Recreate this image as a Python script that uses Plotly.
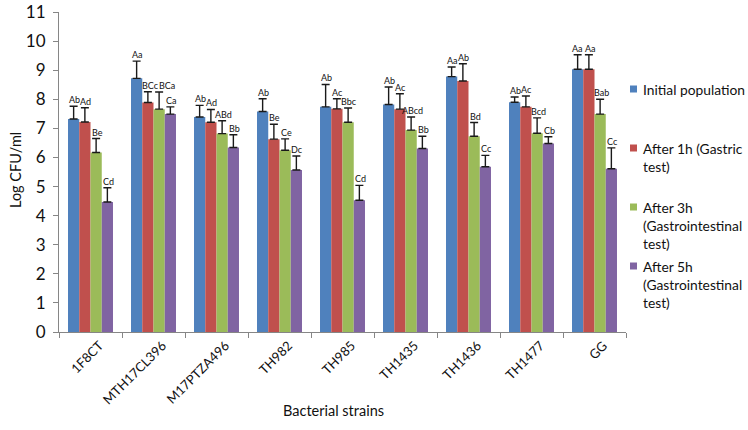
import plotly.graph_objects as go

strains = ["1F8CT", "MTH17CL396", "M17PTZA496", "TH982", "TH985", "TH1435", "TH1436", "TH1477", "GG"]

initial = [7.32, 8.72, 7.39, 7.58, 7.74, 7.82, 8.78, 7.90, 9.03]
after1h = [7.22, 7.89, 7.21, 6.63, 7.67, 7.66, 8.63, 7.74, 9.03]
after3h = [6.17, 7.66, 6.82, 6.25, 7.21, 6.94, 6.73, 6.83, 7.49]
after5h = [4.47, 7.49, 6.34, 5.57, 4.53, 6.31, 5.68, 6.48, 5.61]

err_initial = [0.44, 0.59, 0.40, 0.44, 0.77, 0.60, 0.33, 0.18, 0.50]
err_1h = [0.49, 0.37, 0.44, 0.51, 0.35, 0.53, 0.59, 0.37, 0.50]
err_3h = [0.48, 0.59, 0.44, 0.39, 0.49, 0.45, 0.47, 0.53, 0.51]
err_5h = [0.49, 0.25, 0.44, 0.48, 0.51, 0.42, 0.39, 0.23, 0.72]

lbl_initial = ["Ab", "Aa", "Ab", "Ab", "Ab", "Ab", "Aa", "Ab", "Aa"]
lbl_1h = ["Ad", "BCc", "Ad", "Be", "Ac", "Ac", "Ab", "Ac", "Aa"]
lbl_3h = ["Be", "BCa", "ABd", "Ce", "Bbc", "ABcd", "Bd", "Bcd", "Bab"]
lbl_5h = ["Cd", "Ca", "Bb", "Dc", "Cd", "Bb", "Cc", "Cb", "Cc"]

series_names = [
    "Initial population",
    "After 1h (Gastric test)",
    "After 3h (Gastrointestinal test)",
    "After 5h (Gastrointestinal test)",
]
legend_texts = [
    "Initial population",
    "After 1h (Gastric<br>test)",
    "After 3h<br>(Gastrointestinal<br>test)",
    "After 5h<br>(Gastrointestinal<br>test)",
]
colors = ["#4F81BD", "#C0504D", "#9BBB59", "#8064A2"]

values = [initial, after1h, after3h, after5h]
errors = [err_initial, err_1h, err_3h, err_5h]
labels = [lbl_initial, lbl_1h, lbl_3h, lbl_5h]

FONT = "Lato"
W, H = 748, 430
ML, MT = 59, 12
PR, PB = 626, 332  # plot right / bottom in pixels
MR, MB = W - PR, H - PB
PW, PH = W - ML - MR, H - MT - MB
bargap = 0.286

# small horizontal nudges of letter labels (series index, category index) -> px
label_nudge = {(1, 1): 2, (2, 1): 7, (0, 8): -1, (1, 8): 1}


def px_x(x):
    # pixel -> paper coordinate
    return (x - ML) / PW


def px_y(y):
    return (PB - y) / PH


fig = go.Figure()
for i in range(4):
    fig.add_trace(go.Bar(
        x=strains, y=values[i], name=series_names[i],
        marker=dict(color=colors[i], line=dict(width=0)),
        error_y=dict(type="data", symmetric=False, array=errors[i],
                     arrayminus=[0] * len(strains), color="#1a1a1a",
                     thickness=1.4, width=4),
        showlegend=False,
    ))

ann = []
shapes = []
gw = 1 - bargap
bw = gw / 4
for i in range(4):
    off = -gw / 2 + (i + 0.5) * bw
    for j in range(len(strains)):
        ann.append(dict(
            x=j + off, y=values[i][j] + errors[i][j], xref="x", yref="y",
            text=labels[i][j], showarrow=False, yanchor="bottom",
            xshift=1 + label_nudge.get((i, j), 0), yshift=-1,
            font=dict(family=FONT, size=9, color="#111111"),
        ))

# legend drawn at the right, entries evenly spaced
LEG_Y = [89, 148, 207, 266]
FS_LEG = 13.8
LINE_H = 1.3 * FS_LEG
for i in range(4):
    yc = LEG_Y[i]
    shapes.append(dict(type="rect", xref="paper", yref="paper",
                       x0=px_x(630), x1=px_x(637), y0=px_y(yc + 3.5), y1=px_y(yc - 3.5),
                       fillcolor=colors[i], line=dict(width=0)))
    ann.append(dict(
        x=px_x(641), y=px_y(yc - LINE_H / 2 - 1), xref="paper", yref="paper",
        xanchor="left", yanchor="top", align="left", showarrow=False,
        text=legend_texts[i], font=dict(family=FONT, size=FS_LEG, color="#111111"),
    ))

# axis titles
ann.append(dict(x=px_x(333), y=px_y(410), xref="paper", yref="paper",
                text="Bacterial strains", showarrow=False,
                xanchor="center", yanchor="middle",
                font=dict(family=FONT, size=14.5, color="#111111")))
ann.append(dict(x=px_x(15), y=px_y(170), xref="paper", yref="paper",
                text="Log CFU/ml", showarrow=False, textangle=-90,
                xanchor="center", yanchor="middle",
                font=dict(family=FONT, size=14.5, color="#111111")))

fig.update_layout(
    width=W, height=H,
    margin=dict(l=ML, r=MR, t=MT, b=MB, autoexpand=False),
    paper_bgcolor="white", plot_bgcolor="white",
    barmode="group", bargap=bargap, bargroupgap=0,
    font=dict(family=FONT, size=14, color="#111111"),
    showlegend=False,
    annotations=ann, shapes=shapes,
)
fig.update_xaxes(
    automargin=False,
    showline=True, linecolor="#868686", linewidth=1,
    ticks="outside", tickson="boundaries", ticklen=5, tickcolor="#868686",
    tickangle=-45, tickfont=dict(family=FONT, size=13),
    ticklabelshift=9, ticklabeloverflow="allow",
    showgrid=False,
)
fig.update_yaxes(
    automargin=False,
    range=[0, 11], dtick=1, showline=True, linecolor="#868686", linewidth=1,
    ticks="outside", ticklen=5, tickcolor="#868686",
    tickfont=dict(family=FONT, size=17), ticklabeloverflow="allow",
    ticklabelstandoff=4,
    showgrid=False, zeroline=False,
)

fig.write_html("out.html", config={"displayModeBar": False},
               post_script="document.body.style.margin='0';")
